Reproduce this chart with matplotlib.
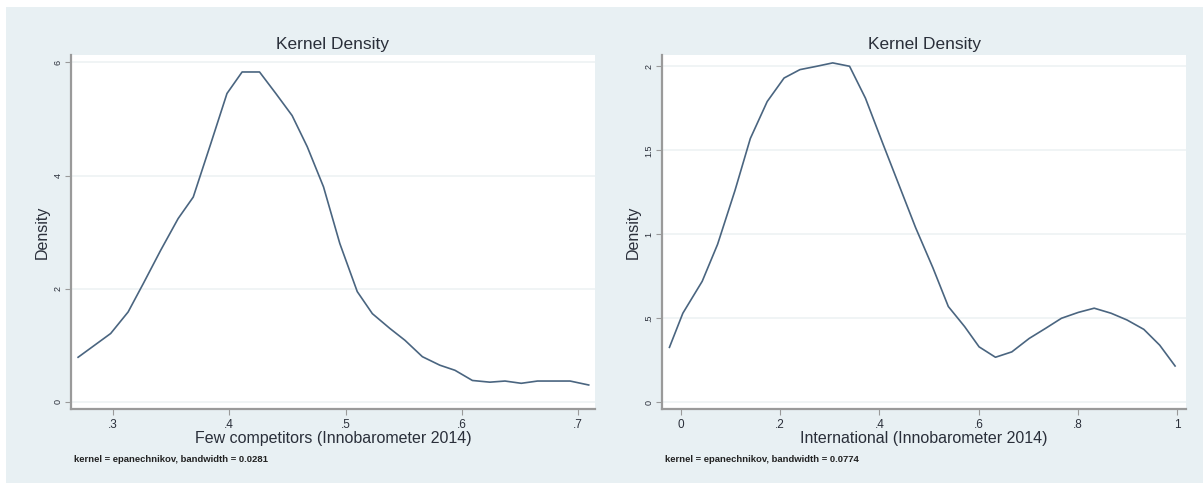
import matplotlib
matplotlib.use('Agg')
import matplotlib.pyplot as plt
from matplotlib.patches import Rectangle

plt.rcParams['font.family'] = ['Liberation Sans', 'DejaVu Sans']

BG = "#E8F0F3"
LINE = "#4a6580"
TEXT = "#2a2f3a"
AXIS = "#9a9a9a"

# Left panel: few competitors density
few_x = [0.270, 0.298, 0.313, 0.326, 0.341, 0.356, 0.369, 0.384, 0.398, 0.411,
         0.426, 0.440, 0.454, 0.467, 0.481, 0.495, 0.510, 0.523, 0.538, 0.551,
         0.566, 0.581, 0.594, 0.609, 0.624, 0.637, 0.651, 0.665, 0.680, 0.693, 0.709]
few_y = [0.79, 1.21, 1.59, 2.09, 2.68, 3.24, 3.62, 4.56, 5.45, 5.83,
         5.83, 5.45, 5.06, 4.51, 3.80, 2.80, 1.95, 1.56, 1.30, 1.09,
         0.80, 0.65, 0.56, 0.38, 0.35, 0.37, 0.33, 0.37, 0.37, 0.37, 0.30]

# Right panel: international density
intl_x = [-0.023, 0.004, 0.043, 0.074, 0.109, 0.140, 0.174, 0.208, 0.240, 0.274,
          0.306, 0.340, 0.372, 0.407, 0.440, 0.473, 0.508, 0.539, 0.572, 0.601,
          0.634, 0.667, 0.702, 0.735, 0.767, 0.801, 0.833, 0.867, 0.899, 0.933,
          0.965, 0.996]
intl_y = [0.327, 0.53, 0.72, 0.94, 1.26, 1.57, 1.79, 1.93, 1.98, 2.00,
          2.02, 2.00, 1.81, 1.54, 1.29, 1.04, 0.80, 0.57, 0.45, 0.33,
          0.268, 0.30, 0.38, 0.44, 0.50, 0.535, 0.56, 0.53, 0.49, 0.434,
          0.34, 0.216]

few_xticks = [0.3, 0.4, 0.5, 0.6, 0.7]
few_xlabels = ['.3', '.4', '.5', '.6', '.7']
few_yticks = [0, 2, 4, 6]
few_ylabels = ['0', '2', '4', '6']
intl_xticks = [0, 0.2, 0.4, 0.6, 0.8, 1]
intl_xlabels = ['0', '.2', '.4', '.6', '.8', '1']
intl_yticks = [0, 0.5, 1, 1.5, 2]
intl_ylabels = ['0', '.5', '1', '1.5', '2']

fig = plt.figure(figsize=(12.03, 4.83), dpi=100)
fig.patch.set_facecolor('white')
fig.add_artist(Rectangle((6 / 1203, 0), 1 - 6 / 1203, 1 - 7 / 483,
                         transform=fig.transFigure, facecolor=BG,
                         edgecolor='none', zorder=0))

panels = [
    dict(rect=[71 / 1203, 74 / 483, 524 / 1203, 354 / 483], x=few_x, y=few_y,
         xlim=(0.2639, 0.7144), ylim=(-0.124, 6.13),
         xt=few_xticks, xl=few_xlabels, yt=few_yticks, yl=few_ylabels,
         xlabel='Few competitors (Innobarometer 2014)',
         note='kernel = epanechnikov, bandwidth = 0.0281'),
    dict(rect=[662 / 1203, 74 / 483, 524 / 1203, 354 / 483], x=intl_x, y=intl_y,
         xlim=(-0.038, 1.018), ylim=(-0.04, 2.067),
         xt=intl_xticks, xl=intl_xlabels, yt=intl_yticks, yl=intl_ylabels,
         xlabel='International (Innobarometer 2014)',
         note='kernel = epanechnikov, bandwidth = 0.0774'),
]

for p in panels:
    ax = fig.add_axes(p['rect'])
    ax.set_facecolor('white')
    ax.plot(p['x'], p['y'], color=LINE, linewidth=1.2, zorder=3)
    ax.set_xlim(*p['xlim'])
    ax.set_ylim(*p['ylim'])
    for yv in p['yt']:
        ax.axhline(yv, color='#edf2f4', linewidth=1.2, zorder=1)
    ax.set_xticks(p['xt'])
    ax.set_xticklabels(p['xl'], fontsize=8.5, color=TEXT)
    ax.set_yticks(p['yt'])
    ax.set_yticklabels(p['yl'], fontsize=6.5, color=TEXT, rotation=90, va='center')
    ax.tick_params(axis='both', direction='out', length=4, width=0.8, color=AXIS)
    ax.tick_params(axis='x', pad=3)
    ax.tick_params(axis='y', pad=2)
    for side in ['top', 'right']:
        ax.spines[side].set_visible(False)
    for side in ['left', 'bottom']:
        ax.spines[side].set_color(AXIS)
        ax.spines[side].set_linewidth(1.6)
    ax.set_title('Kernel Density', fontsize=12.5, color=TEXT, pad=4)
    ax.set_xlabel(p['xlabel'], fontsize=11.5, color=TEXT, labelpad=0)
    ax.set_ylabel('Density', fontsize=11.5, color=TEXT, labelpad=3)
    ax.text(0.005, -0.143, p['note'], transform=ax.transAxes, fontsize=6.8,
            fontweight='bold', color='#222222', ha='left', va='center')

fig.savefig('out.png', dpi=100, facecolor=fig.get_facecolor())
